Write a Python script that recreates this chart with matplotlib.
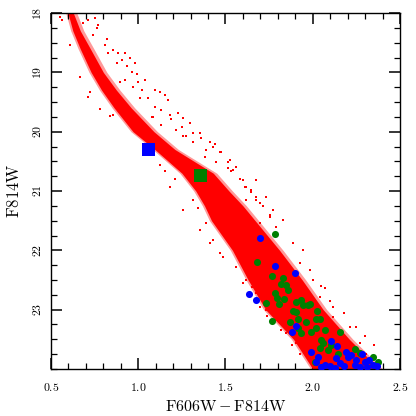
import matplotlib
matplotlib.use("Agg")
import matplotlib.pyplot as plt
from matplotlib.ticker import MultipleLocator

plt.rcParams['mathtext.fontset'] = 'cm'
plt.rcParams['font.family'] = ['cmr10', 'DejaVu Serif']
plt.rcParams['axes.formatter.use_mathtext'] = True

# Dense main-sequence core (edges of the red point cloud)
core_mag = [17.9, 18.0, 18.3, 18.6, 19.0, 19.3, 19.6, 20.0, 20.3, 20.7, 21.0, 21.25,
            21.5, 22.0, 22.5, 23.0, 23.5, 24.0, 24.1]
core_left = [0.592, 0.597, 0.625, 0.667, 0.73, 0.79, 0.862, 0.97, 1.095, 1.25, 1.33, 1.38,
             1.42, 1.54, 1.63, 1.73, 1.89, 2.00, 2.02]
core_right = [0.618, 0.628, 0.668, 0.725, 0.80, 0.875, 0.96, 1.09, 1.21, 1.43, 1.52, 1.60,
              1.67, 1.81, 1.94, 2.06, 2.21, 2.38, 2.40]

# Scattered red stars outside the core
red_color = [0.685, 0.713, 0.752, 0.771, 0.761, 0.742, 0.819, 0.809, 0.828, 0.857, 0.885,
             0.923, 0.905, 0.876, 0.952, 0.933, 0.981, 0.962, 0.990, 0.895, 0.923, 1.038,
             1.000, 0.971, 1.019, 1.009, 1.057, 1.095, 1.124, 1.152, 1.171, 1.095, 1.133,
             1.076, 0.723, 0.780, 0.609, 0.551, 0.563, 0.666, 0.712, 0.838,
             1.181, 1.228, 1.257, 1.295, 1.314, 1.362, 1.410, 1.429, 1.477, 1.381, 1.448,
             1.524, 1.543, 1.582, 1.610, 1.648, 1.677, 1.696, 1.620, 1.563, 1.515, 1.276,
             1.248, 1.152, 1.181, 1.210, 1.314, 1.343,
             1.677, 1.734, 1.772, 1.696, 1.792, 1.620, 1.429, 1.467, 1.391,
             1.753, 1.829, 1.792, 1.887, 1.944, 1.925, 1.982, 2.068, 2.039, 2.115, 2.115,
             2.211, 2.192, 2.268, 2.307, 1.563, 1.620, 1.677, 1.734, 1.792, 1.849, 1.906,
             1.925,
             1.085, 1.133, 1.190, 1.219, 1.257, 1.315, 1.353, 1.391, 1.438, 1.467, 1.515,
             1.534, 1.563, 1.600, 1.648, 1.677, 1.715, 1.753, 1.620, 1.582, 0.857, 1.124,
             1.181, 1.257, 1.353, 1.410, 1.486,
             1.600, 1.650, 1.700, 1.740, 1.820, 1.880, 2.000, 2.050, 2.100, 2.180, 2.250,
             2.300, 2.350]
red_mag = [18.17, 18.12, 18.09, 18.20, 18.26, 18.37, 18.44, 18.54, 18.68, 18.62, 18.68,
           18.67, 18.79, 18.85, 18.76, 18.90, 18.85, 18.99, 19.02, 19.16, 19.13, 19.13,
           19.16, 19.24, 19.30, 19.44, 19.44, 19.30, 19.33, 19.38, 19.47, 19.58, 19.63,
           19.75, 19.33, 19.61, 18.54, 18.07, 18.12, 19.08, 19.42, 19.74,
           19.72, 19.69, 19.77, 19.86, 20.03, 20.11, 20.17, 20.25, 20.34, 20.42, 20.51,
           20.48, 20.65, 20.79, 20.93, 20.98, 21.10, 21.21, 21.15, 21.26, 20.62, 20.08,
           19.92, 20.67, 20.93, 20.79, 21.15, 21.29,
           20.81, 21.10, 21.32, 21.54, 21.60, 20.93, 21.83, 22.05, 21.54,
           21.40, 21.49, 21.71, 21.88, 21.99, 22.22, 22.33, 22.64, 22.78, 22.95, 23.12,
           23.29, 23.51, 23.57, 23.74, 22.28, 22.50, 22.72, 23.01, 23.17, 23.40, 23.57,
           23.74,
           19.75, 19.89, 19.78, 19.97, 20.08, 20.17, 20.03, 20.31, 20.20, 20.34, 20.51,
           20.67, 20.59, 20.81, 21.01, 21.15, 21.26, 21.43, 21.15, 21.32, 19.72, 20.56,
           20.93, 21.32, 21.66, 21.88, 22.11,
           22.55, 22.62, 22.95, 23.10, 23.35, 23.60, 22.50, 22.60, 22.85, 23.05, 23.30,
           23.45, 23.60]

green_color = [1.782, 1.681, 1.765, 1.829, 1.820, 1.846, 1.786, 1.797, 1.835, 1.730, 1.806,
               1.906, 1.935, 1.944, 1.982, 1.906, 1.915, 2.026, 2.039, 1.766, 1.868, 1.963,
               2.020, 1.915, 1.992, 2.020, 2.068, 2.154, 1.935, 2.049, 2.058, 2.039, 2.087,
               2.144, 2.106, 2.240, 2.268, 2.344, 2.373, 2.011, 1.971, 1.885, 1.856]
green_mag = [21.73, 22.19, 22.44, 22.47, 22.56, 22.59, 22.72, 22.81, 22.82, 22.88, 22.90,
             22.87, 22.84, 22.92, 22.91, 23.04, 23.15, 23.02, 23.15, 23.19, 23.20, 23.20,
             23.16, 23.31, 23.37, 23.31, 23.34, 23.38, 23.40, 23.51, 23.57, 23.65, 23.68,
             23.74, 23.60, 23.67, 23.73, 23.79, 23.88, 23.88, 22.92, 23.02, 22.67]

blue_color = [1.696, 1.786, 1.896, 1.635, 1.673, 1.906, 1.879, 2.104, 2.141, 1.988,
              2.028, 2.020, 2.068, 2.097, 2.135, 2.154, 2.192, 2.201, 2.249, 2.297, 2.325,
              2.344, 2.240, 2.268, 2.180, 2.220, 2.280, 2.370, 2.125, 2.050, 2.310]
blue_mag = [21.79, 22.27, 22.39, 22.73, 22.84, 23.27, 23.37, 23.525, 23.62, 23.72,
            23.80, 23.88, 23.93, 23.95, 23.82, 23.90, 23.71, 23.79, 23.85, 23.88, 23.85,
            23.93, 23.93, 23.97, 23.95, 23.76, 23.75, 23.95, 23.98, 23.97, 23.96]

square_color = [1.057, 1.358]
square_mag = [20.30, 20.74]
square_colors = ['#0000ff', '#007f00']

fig = plt.figure(figsize=(4.16, 4.16), dpi=100)
ax = fig.add_axes([0.1226, 0.113, 0.8389, 0.8557])

ax.fill_betweenx(core_mag, [v - 0.012 for v in core_left], [v + 0.02 for v in core_right],
                 color='#ff0000', alpha=0.4, lw=0, zorder=1)
ax.fill_betweenx(core_mag, core_left, core_right, color='#ff0000', lw=0, zorder=2)
ax.scatter(red_color, red_mag, s=1.5, marker='s', color='#ff0000', lw=0, zorder=2)

ax.scatter(green_color, green_mag, s=26, color='#007f00', lw=0, zorder=4)
ax.scatter(blue_color, blue_mag, s=26, color='#0000ff', lw=0, zorder=5)
ax.scatter(square_color, square_mag, s=92, marker='s', color=square_colors, lw=0, zorder=6)

ax.set_xlim(0.5, 2.5)
ax.set_ylim(24, 18)

xt = [0.5, 1.0, 1.5, 2.0, 2.5]
yt = [18, 19, 20, 21, 22, 23]
ax.set_xticks(xt, [r'$%.1f$' % v for v in xt])
ax.set_yticks(yt, [r'$%d$' % v for v in yt])
ax.xaxis.set_minor_locator(MultipleLocator(0.1))
ax.yaxis.set_minor_locator(MultipleLocator(0.25))
ax.tick_params(which='both', direction='in', top=True, right=True, labelsize=8.5)
ax.tick_params(which='major', length=8, width=1.1)
ax.tick_params(which='minor', length=4, width=0.9)
ax.tick_params(axis='x', pad=9)
for lab in ax.get_yticklabels():
    lab.set_rotation(90)
    lab.set_va('center')
ax.tick_params(axis='y', pad=6)
for sp in ax.spines.values():
    sp.set_linewidth(1.0)

ax.set_xlabel(r'$\mathrm{F606W}-\mathrm{F814W}$', fontsize=11.5, labelpad=4)
ax.set_ylabel(r'$\mathrm{F814W}$', fontsize=12, labelpad=6)

fig.savefig('out.png', dpi=100)
